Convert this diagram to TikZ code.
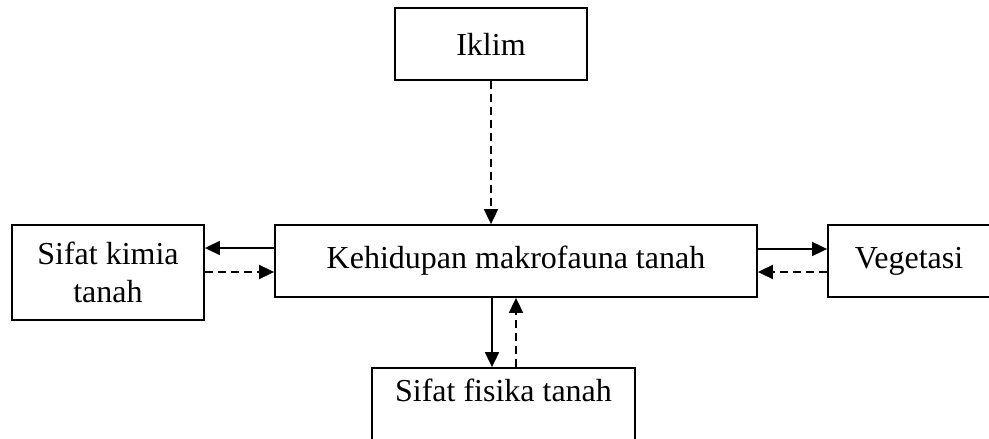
\documentclass[tikz,border=0pt]{standalone}
\usepackage{fontspec}
\setmainfont{Liberation Serif}
\usetikzlibrary{arrows.meta}
\begin{document}
\begin{tikzpicture}[x=1pt,y=-1pt,
  box/.style={draw,line width=1.8pt,rectangle,inner sep=0pt,font=\fontsize{32}{38}\selectfont,align=center},
  lbl/.style={inner sep=0pt,font=\fontsize{32}{38}\selectfont},
  conn/.style={line width=1.8pt,-{Triangle[length=15pt,width=14pt]}},
  dsh/.style={conn,dash pattern=on 8pt off 5pt}]
\useasboundingbox (0,0) rectangle (989,439);
\clip (0,0) rectangle (989,439);
\node[box,minimum width=192,minimum height=72] (iklim) at (491,44) {Iklim};
\node[box,minimum width=482,minimum height=72] (cen) at (516,261) {Kehidupan makrofauna tanah};
\node[box,minimum width=192,minimum height=95] (kimia) at (108,272.5) {Sifat kimia\\tanah};
\node[box,minimum width=164,minimum height=72] (veg) at (910,261) {\hspace*{-2pt}Vegetasi};
\node[box,minimum width=263,minimum height=110] (fis) at (503.5,423) {};
\node[lbl] (fist) at (503.5,390) {Sifat fisika tanah};
\draw[dsh] (iklim.south) -- (iklim.south |- cen.north);
\draw[conn] ([yshift=13pt]cen.west) -- ([yshift=13pt]cen.west -| kimia.east);
\draw[dsh] ([yshift=-11pt]cen.west -| kimia.east) -- ([yshift=-11pt]cen.west);
\draw[conn] ([yshift=12pt]cen.east) -- ([yshift=12pt]cen.east -| veg.west);
\draw[dsh] ([yshift=-11pt]cen.east -| veg.west) -- ([yshift=-11pt]cen.east);
\draw[conn] ([xshift=-24pt]cen.south) -- ([xshift=-24pt]cen.south |- fis.north);
\draw[dsh] (cen.south |- fis.north) -- (cen.south);
\end{tikzpicture}
\end{document}
